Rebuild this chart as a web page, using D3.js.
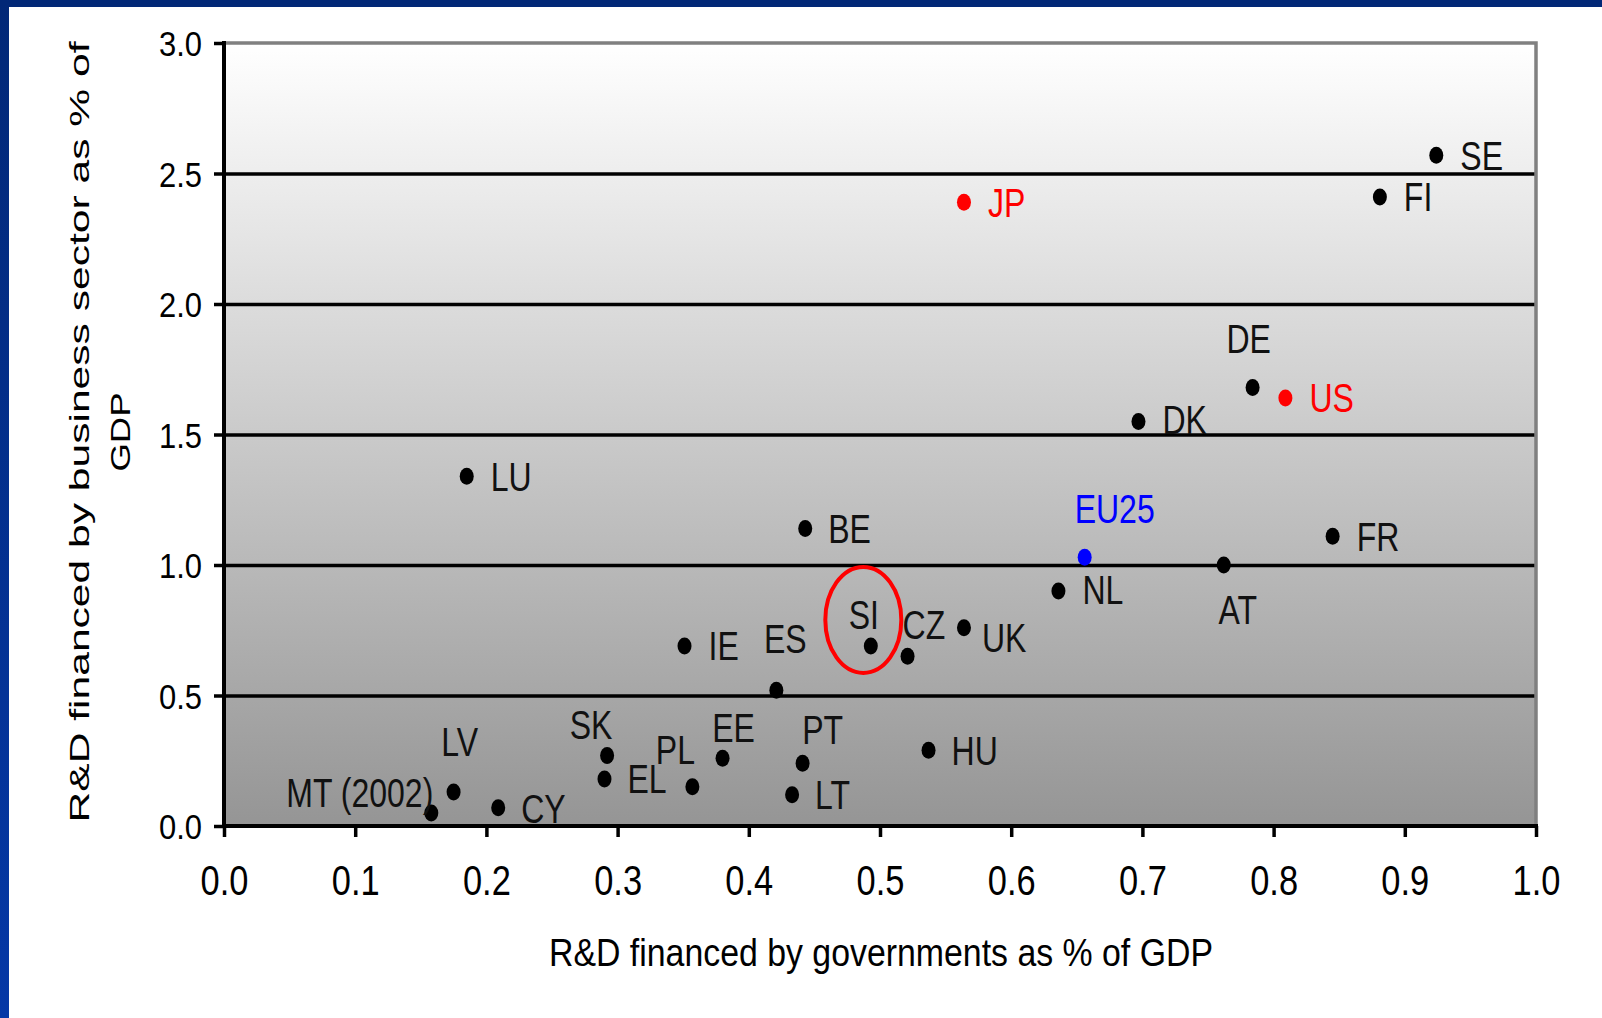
<!DOCTYPE html>
<html>
<head>
<meta charset="utf-8">
<script src="https://cdn.jsdelivr.net/npm/d3@7"></script>
<style>
  html, body { margin: 0; padding: 0; background: #fff; }
  svg { display: block; font-family: Arial, "Liberation Sans", sans-serif; }
  .axis path { display: none; }
  .axis line { stroke: #000; stroke-width: 3.5; }
  .grid line { stroke: #000; stroke-width: 3.5; }
  .grid path { display: none; }
</style>
</head>
<body>
<div class="chart"></div>
<script>
"use strict";

// ----------------------------------------
//  Data
// ----------------------------------------
let countries = ["SE", "FI", "JP", "DE", "US", "DK", "LU", "BE", "EU25", "FR", "AT", "NL", "UK",
                 "CZ", "SI", "IE", "ES", "HU", "PT", "LT", "EE", "PL", "SK", "EL", "LV", "CY", "MT (2002)"];
let gov_funding = [0.924, 0.881, 0.564, 0.784, 0.809, 0.697, 0.185, 0.443, 0.656, 0.845, 0.762, 0.636, 0.564,
                   0.521, 0.493, 0.351, 0.421, 0.537, 0.441, 0.433, 0.380, 0.357, 0.292, 0.290, 0.175, 0.209, 0.158];
let business_funding = [2.57, 2.41, 2.39, 1.68, 1.64, 1.55, 1.34, 1.14, 1.03, 1.11, 1.00, 0.90, 0.76,
                        0.65, 0.69, 0.69, 0.52, 0.29, 0.24, 0.12, 0.26, 0.15, 0.27, 0.18, 0.13, 0.07, 0.05];
let groups = ["eu", "eu", "other", "eu", "other", "eu", "eu", "eu", "total", "eu", "eu", "eu", "eu",
              "eu", "eu", "eu", "eu", "eu", "eu", "eu", "eu", "eu", "eu", "eu", "eu", "eu", "eu"];
let x_ticks = [0.0, 0.1, 0.2, 0.3, 0.4, 0.5, 0.6, 0.7, 0.8, 0.9, 1.0];
let y_ticks = [0.0, 0.5, 1.0, 1.5, 2.0, 2.5, 3.0];
let highlighted = "SI";

// ----------------------------------------
//  Appearance settings
// ----------------------------------------
let page_w = 1602, page_h = 1018;
let plot = {left: 224, right: 1536, top: 43, bottom: 826};
let group_color = {eu: "#000000", other: "#ff0000", total: "#0000ff"};

// label placement: [anchor, dx, dy] in pixels from the dot
let label_place = {
    "SE": ["start", 24, 0], "FI": ["start", 24, 0], "JP": ["start", 24, 0],
    "DE": ["middle", -4, -49], "US": ["start", 24, 0], "DK": ["start", 24, -2],
    "LU": ["start", 24, 0], "BE": ["start", 23, 0], "EU25": ["start", -10, -49],
    "FR": ["start", 24, 0], "AT": ["middle", 14, 45], "NL": ["start", 24, -2],
    "UK": ["start", 18, 10], "CZ": ["start", -5, -32], "SI": ["middle", -7, -31],
    "IE": ["start", 24, 0], "ES": ["middle", 9, -52], "HU": ["start", 23, 0],
    "PT": ["middle", 20, -34], "LT": ["start", 23, 0], "EE": ["middle", 11, -31],
    "PL": ["middle", -17, -37], "SK": ["middle", -16, -31], "EL": ["start", 23, 0],
    "LV": ["middle", 6, -50], "CY": ["start", 23, 1], "MT (2002)": ["end", 2, -20]
};

let points = countries.map(function (c, i) {
    return {name: c, x: gov_funding[i], y: business_funding[i], group: groups[i]};
});

let svg = d3.select(".chart")
    .append("svg")
    .attr("width", page_w)
    .attr("height", page_h);

let defs = svg.append("defs");

let bg = defs.append("linearGradient")
    .attr("id", "plotbg").attr("x1", 0).attr("y1", 0).attr("x2", 0).attr("y2", 1);
bg.append("stop").attr("offset", "0%").attr("stop-color", "#ffffff");
bg.append("stop").attr("offset", "100%").attr("stop-color", "#959595");

let frame = defs.append("linearGradient")
    .attr("id", "frame").attr("x1", 0).attr("y1", 0).attr("x2", 0).attr("y2", 1);
frame.append("stop").attr("offset", "0%").attr("stop-color", "#022877");
frame.append("stop").attr("offset", "100%").attr("stop-color", "#0538a6");

// blue slide frame (top and left)
svg.append("rect").attr("x", 0).attr("y", 0).attr("width", page_w).attr("height", 7).attr("fill", "#022877");
svg.append("rect").attr("x", 0).attr("y", 0).attr("width", 9).attr("height", page_h).attr("fill", "url(#frame)");

// ----------------------------------------
//  Scales
// ----------------------------------------
let x_scale = d3.scaleLinear().domain([0, 1]).range([plot.left, plot.right]);
let y_scale = d3.scaleLinear().domain([0, 3]).range([plot.bottom, plot.top]);

// plot background
svg.append("rect")
    .attr("x", x_scale(0)).attr("y", y_scale(3))
    .attr("width", x_scale(1) - x_scale(0))
    .attr("height", y_scale(0) - y_scale(3))
    .attr("fill", "url(#plotbg)");

// horizontal grid lines
svg.append("g")
    .attr("class", "grid")
    .attr("transform", "translate(" + plot.left + ",0)")
    .call(d3.axisLeft(y_scale).tickValues(y_ticks.filter(function (v) { return v > 0 && v < 3; }))
        .tickSize(-(plot.right - plot.left)).tickFormat(""));

// grey top / right border
svg.append("path")
    .attr("d", "M" + x_scale(0) + "," + y_scale(3) + "H" + x_scale(1) + "V" + y_scale(0))
    .attr("fill", "none").attr("stroke", "#808080").attr("stroke-width", 3.5);

// x axis
let x_axis = svg.append("g")
    .attr("class", "axis x")
    .attr("transform", "translate(0," + plot.bottom + ")")
    .call(d3.axisBottom(x_scale).tickValues(x_ticks).tickSize(11).tickSizeOuter(0)
        .tickFormat(d3.format(".1f")));
x_axis.selectAll("text")
    .attr("y", 0).attr("dy", 0)
    .attr("transform", "translate(0,69) scale(0.82,1)")
    .attr("fill", "#000")
    .style("font-size", "42px");

// y axis
let y_axis = svg.append("g")
    .attr("class", "axis y")
    .attr("transform", "translate(" + plot.left + ",0)")
    .call(d3.axisLeft(y_scale).tickValues(y_ticks).tickSize(10).tickSizeOuter(0)
        .tickFormat(d3.format(".1f")));
y_axis.selectAll("text")
    .attr("x", 0).attr("dy", "0.36em")
    .attr("transform", "translate(-22,0) scale(0.86,1)")
    .attr("fill", "#000")
    .style("font-size", "36px");

// solid axis lines
svg.append("line")
    .attr("x1", x_scale(0)).attr("x2", x_scale(0))
    .attr("y1", y_scale(3) - 2).attr("y2", y_scale(0) + 2)
    .attr("stroke", "#000").attr("stroke-width", 4);
svg.append("line")
    .attr("x1", x_scale(0) - 2).attr("x2", x_scale(1) + 2)
    .attr("y1", y_scale(0)).attr("y2", y_scale(0))
    .attr("stroke", "#000").attr("stroke-width", 4);

// axis titles
svg.append("text")
    .attr("x", 881).attr("y", 966)
    .attr("text-anchor", "middle")
    .attr("textLength", 664).attr("lengthAdjust", "spacingAndGlyphs")
    .style("font-size", "38px").attr("fill", "#000")
    .text("R&D financed by governments as % of GDP");

let y_title = svg.append("g")
    .attr("transform", "translate(89,432) rotate(-90)");
y_title.append("text")
    .attr("x", 0).attr("y", 0)
    .attr("text-anchor", "middle")
    .attr("textLength", 781).attr("lengthAdjust", "spacingAndGlyphs")
    .style("font-size", "28px").attr("fill", "#000")
    .text("R&D financed by business sector as % of");
y_title.append("text")
    .attr("x", 0).attr("y", 41)
    .attr("text-anchor", "middle")
    .attr("textLength", 79).attr("lengthAdjust", "spacingAndGlyphs")
    .style("font-size", "28px").attr("fill", "#000")
    .text("GDP");

// ----------------------------------------
//  Points and labels
// ----------------------------------------
svg.selectAll(".dot")
    .data(points)
    .enter()
    .append("ellipse")
    .attr("class", "dot")
    .attr("cx", function (d) { return x_scale(d.x); })
    .attr("cy", function (d) { return y_scale(d.y); })
    .attr("rx", 7)
    .attr("ry", 8.5)
    .attr("fill", function (d) { return group_color[d.group]; });

let labels = svg.selectAll(".lbl")
    .data(points)
    .enter()
    .append("g")
    .attr("class", "lbl")
    .attr("transform", function (d) {
        let p = label_place[d.name];
        return "translate(" + (x_scale(d.x) + p[1]) + "," + (y_scale(d.y) + p[2]) + ") scale(0.8,1)";
    });
labels.append("text")
    .attr("text-anchor", function (d) { return label_place[d.name][0]; })
    .attr("dy", "0.36em")
    .style("font-size", "40px")
    .attr("fill", function (d) { return d.group === "eu" ? "#111" : group_color[d.group]; })
    .text(function (d) { return d.name; });

// red ring around the highlighted country
let hl = points.filter(function (d) { return d.name === highlighted; })[0];
svg.append("ellipse")
    .attr("cx", x_scale(hl.x) - 7.5)
    .attr("cy", y_scale(hl.y) - 26)
    .attr("rx", 38)
    .attr("ry", 53)
    .attr("fill", "none")
    .attr("stroke", "#ff0000")
    .attr("stroke-width", 4);
</script>
</body>
</html>
